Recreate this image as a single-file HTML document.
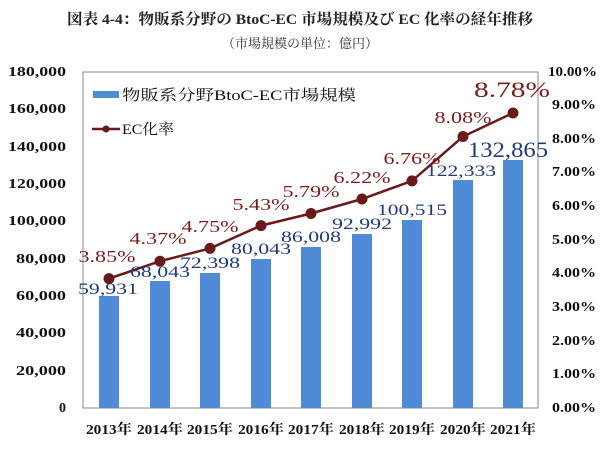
<!DOCTYPE html><html><head><meta charset="utf-8"><style>body{margin:0;background:#fff}svg text{font-family:"Liberation Serif","Noto Serif CJK SC",serif}</style></head><body>
<svg width="600" height="444" xmlns="http://www.w3.org/2000/svg">
<text x="300" y="24" text-anchor="middle" font-size="15" font-weight="bold" fill="#222" textLength="466" lengthAdjust="spacingAndGlyphs">図表 4-4：物販系分野の BtoC-EC 市場規模及び EC 化率の経年推移</text>
<text x="300" y="48" text-anchor="middle" font-size="13" fill="#333" textLength="156" lengthAdjust="spacingAndGlyphs">（市場規模の単位：億円）</text>
<rect x="83" y="72" width="455" height="336" fill="none" stroke="#888" stroke-width="1"/>
<g font-size="14" fill="#111" text-anchor="end" font-weight="bold">
<text x="66" y="76" textLength="58" lengthAdjust="spacingAndGlyphs">180,000</text><text x="66" y="113" textLength="58" lengthAdjust="spacingAndGlyphs">160,000</text><text x="66" y="151" textLength="58" lengthAdjust="spacingAndGlyphs">140,000</text><text x="66" y="188" textLength="58" lengthAdjust="spacingAndGlyphs">120,000</text><text x="66" y="225" textLength="58" lengthAdjust="spacingAndGlyphs">100,000</text><text x="66" y="263" textLength="50" lengthAdjust="spacingAndGlyphs">80,000</text><text x="66" y="300" textLength="50" lengthAdjust="spacingAndGlyphs">60,000</text><text x="66" y="337" textLength="50" lengthAdjust="spacingAndGlyphs">40,000</text><text x="66" y="375" textLength="50" lengthAdjust="spacingAndGlyphs">20,000</text><text x="66" y="412">0</text>
</g>
<g font-size="14" fill="#111" text-anchor="start" font-weight="bold">
<text x="548" y="76" textLength="49" lengthAdjust="spacingAndGlyphs">10.00%</text><text x="552" y="109" textLength="44" lengthAdjust="spacingAndGlyphs">9.00%</text><text x="552" y="143" textLength="44" lengthAdjust="spacingAndGlyphs">8.00%</text><text x="552" y="176" textLength="44" lengthAdjust="spacingAndGlyphs">7.00%</text><text x="552" y="210" textLength="44" lengthAdjust="spacingAndGlyphs">6.00%</text><text x="552" y="244" textLength="44" lengthAdjust="spacingAndGlyphs">5.00%</text><text x="552" y="277" textLength="44" lengthAdjust="spacingAndGlyphs">4.00%</text><text x="552" y="311" textLength="44" lengthAdjust="spacingAndGlyphs">3.00%</text><text x="552" y="345" textLength="44" lengthAdjust="spacingAndGlyphs">2.00%</text><text x="552" y="378" textLength="44" lengthAdjust="spacingAndGlyphs">1.00%</text><text x="552" y="412" textLength="44" lengthAdjust="spacingAndGlyphs">0.00%</text>
</g>
<g fill="#4f8bd6">
<rect x="99" y="296" width="20" height="112"/><rect x="150" y="281" width="20" height="127"/><rect x="200" y="273" width="20" height="135"/><rect x="251" y="259" width="20" height="149"/><rect x="301" y="247" width="20" height="161"/><rect x="352" y="234" width="20" height="174"/><rect x="402" y="220" width="20" height="188"/><rect x="453" y="180" width="20" height="228"/><rect x="503" y="160" width="20" height="248"/>
</g>
<polyline fill="none" stroke="#6b1a1a" stroke-width="2.5" points="109,278.6 160,261.2 210,248.4 261,225.6 311,213.5 362,199 412,180.9 463,136.5 513,113"/>
<g fill="#6b1a1a"><circle cx="109" cy="278.6" r="5.5"/><circle cx="160" cy="261.2" r="5.5"/><circle cx="210" cy="248.4" r="5.5"/><circle cx="261" cy="225.6" r="5.5"/><circle cx="311" cy="213.5" r="5.5"/><circle cx="362" cy="199" r="5.5"/><circle cx="412" cy="180.9" r="5.5"/><circle cx="463" cy="136.5" r="5.5"/><circle cx="513" cy="113" r="5.5"/></g>
<g font-size="17" fill="#7a1c1c" text-anchor="middle">
<text x="107" y="262" textLength="57" lengthAdjust="spacingAndGlyphs">3.85%</text><text x="158" y="244" textLength="57" lengthAdjust="spacingAndGlyphs">4.37%</text><text x="210" y="232" textLength="57" lengthAdjust="spacingAndGlyphs">4.75%</text><text x="261" y="210" textLength="57" lengthAdjust="spacingAndGlyphs">5.43%</text><text x="311" y="197" textLength="57" lengthAdjust="spacingAndGlyphs">5.79%</text><text x="362" y="183" textLength="57" lengthAdjust="spacingAndGlyphs">6.22%</text><text x="412" y="164" textLength="57" lengthAdjust="spacingAndGlyphs">6.76%</text><text x="463" y="123" textLength="57" lengthAdjust="spacingAndGlyphs">8.08%</text><text x="512" y="97" font-size="22" textLength="76" lengthAdjust="spacingAndGlyphs">8.78%</text>
</g>
<g font-size="16" fill="#1f3a7a" text-anchor="middle">
<text x="108" y="294" textLength="60" lengthAdjust="spacingAndGlyphs">59,931</text><text x="160" y="277" textLength="60" lengthAdjust="spacingAndGlyphs">68,043</text><text x="210" y="268" textLength="60" lengthAdjust="spacingAndGlyphs">72,398</text><text x="261" y="254" textLength="60" lengthAdjust="spacingAndGlyphs">80,043</text><text x="311" y="242" textLength="60" lengthAdjust="spacingAndGlyphs">86,008</text><text x="362" y="229" textLength="60" lengthAdjust="spacingAndGlyphs">92,992</text><text x="412" y="215" textLength="70" lengthAdjust="spacingAndGlyphs">100,515</text><text x="461" y="176" textLength="70" lengthAdjust="spacingAndGlyphs">122,333</text><text x="508" y="157" font-size="22" textLength="80" lengthAdjust="spacingAndGlyphs">132,865</text>
</g>
<g font-size="14" font-weight="bold" fill="#111" text-anchor="middle">
<text x="109" y="434" textLength="46" lengthAdjust="spacingAndGlyphs">2013年</text><text x="160" y="434" textLength="46" lengthAdjust="spacingAndGlyphs">2014年</text><text x="210" y="434" textLength="46" lengthAdjust="spacingAndGlyphs">2015年</text><text x="261" y="434" textLength="46" lengthAdjust="spacingAndGlyphs">2016年</text><text x="311" y="434" textLength="46" lengthAdjust="spacingAndGlyphs">2017年</text><text x="362" y="434" textLength="46" lengthAdjust="spacingAndGlyphs">2018年</text><text x="412" y="434" textLength="46" lengthAdjust="spacingAndGlyphs">2019年</text><text x="463" y="434" textLength="46" lengthAdjust="spacingAndGlyphs">2020年</text><text x="513" y="434" textLength="46" lengthAdjust="spacingAndGlyphs">2021年</text>
</g>
<rect x="93" y="91" width="26" height="7" fill="#4f8bd6"/>
<text x="122" y="100" font-size="15" fill="#111" textLength="234" lengthAdjust="spacingAndGlyphs">物販系分野BtoC-EC市場規模</text>
<line x1="92" y1="129" x2="120" y2="129" stroke="#6b1a1a" stroke-width="2.5"/><circle cx="106" cy="129" r="3.5" fill="#6b1a1a"/>
<text x="122" y="134" font-size="15" fill="#111" textLength="52" lengthAdjust="spacingAndGlyphs">EC化率</text>
</svg></body></html>
